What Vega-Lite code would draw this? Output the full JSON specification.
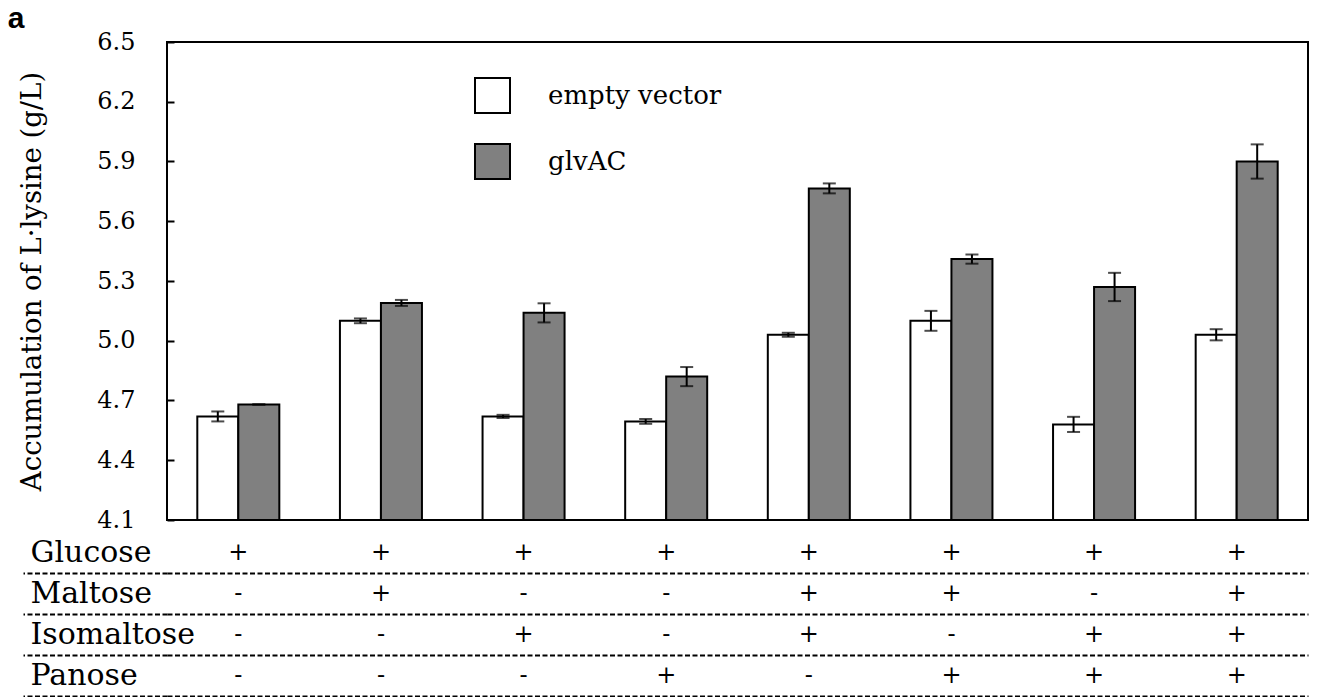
{
  "$schema": "https://vega.github.io/schema/vega-lite/v6.json",
  "background": "white",
  "padding": {"left": 7, "top": 4, "right": 0, "bottom": 0},
  "title": {"text": "a", "anchor": "start", "frame": "bounds", "font": "Liberation Sans", "fontSize": 30, "fontWeight": "bold", "color": "black", "offset": -4, "dx": -10, "dy": 1},
  "config": {
    "font": "DejaVu Serif",
    "view": {"stroke": "black", "strokeWidth": 2}
  },
  "spacing": 12,
  "bounds": "flush",
  "datasets": {
    "bars": [
      {"group": 1, "strain": "empty vector", "value": 4.62, "sd": 0.025},
      {"group": 1, "strain": "glvAC", "value": 4.68, "sd": 0},
      {"group": 2, "strain": "empty vector", "value": 5.10, "sd": 0.012},
      {"group": 2, "strain": "glvAC", "value": 5.19, "sd": 0.015},
      {"group": 3, "strain": "empty vector", "value": 4.62, "sd": 0.008},
      {"group": 3, "strain": "glvAC", "value": 5.14, "sd": 0.048},
      {"group": 4, "strain": "empty vector", "value": 4.595, "sd": 0.012},
      {"group": 4, "strain": "glvAC", "value": 4.82, "sd": 0.048},
      {"group": 5, "strain": "empty vector", "value": 5.03, "sd": 0.01},
      {"group": 5, "strain": "glvAC", "value": 5.765, "sd": 0.025},
      {"group": 6, "strain": "empty vector", "value": 5.10, "sd": 0.05},
      {"group": 6, "strain": "glvAC", "value": 5.41, "sd": 0.023},
      {"group": 7, "strain": "empty vector", "value": 4.58, "sd": 0.038},
      {"group": 7, "strain": "glvAC", "value": 5.27, "sd": 0.071},
      {"group": 8, "strain": "empty vector", "value": 5.03, "sd": 0.028},
      {"group": 8, "strain": "glvAC", "value": 5.90, "sd": 0.086}
    ],
    "table": [
      {"group": 1, "sugar": "Glucose", "sign": "+"},
      {"group": 2, "sugar": "Glucose", "sign": "+"},
      {"group": 3, "sugar": "Glucose", "sign": "+"},
      {"group": 4, "sugar": "Glucose", "sign": "+"},
      {"group": 5, "sugar": "Glucose", "sign": "+"},
      {"group": 6, "sugar": "Glucose", "sign": "+"},
      {"group": 7, "sugar": "Glucose", "sign": "+"},
      {"group": 8, "sugar": "Glucose", "sign": "+"},
      {"group": 1, "sugar": "Maltose", "sign": "-"},
      {"group": 2, "sugar": "Maltose", "sign": "+"},
      {"group": 3, "sugar": "Maltose", "sign": "-"},
      {"group": 4, "sugar": "Maltose", "sign": "-"},
      {"group": 5, "sugar": "Maltose", "sign": "+"},
      {"group": 6, "sugar": "Maltose", "sign": "+"},
      {"group": 7, "sugar": "Maltose", "sign": "-"},
      {"group": 8, "sugar": "Maltose", "sign": "+"},
      {"group": 1, "sugar": "Isomaltose", "sign": "-"},
      {"group": 2, "sugar": "Isomaltose", "sign": "-"},
      {"group": 3, "sugar": "Isomaltose", "sign": "+"},
      {"group": 4, "sugar": "Isomaltose", "sign": "-"},
      {"group": 5, "sugar": "Isomaltose", "sign": "+"},
      {"group": 6, "sugar": "Isomaltose", "sign": "-"},
      {"group": 7, "sugar": "Isomaltose", "sign": "+"},
      {"group": 8, "sugar": "Isomaltose", "sign": "+"},
      {"group": 1, "sugar": "Panose", "sign": "-"},
      {"group": 2, "sugar": "Panose", "sign": "-"},
      {"group": 3, "sugar": "Panose", "sign": "-"},
      {"group": 4, "sugar": "Panose", "sign": "+"},
      {"group": 5, "sugar": "Panose", "sign": "-"},
      {"group": 6, "sugar": "Panose", "sign": "+"},
      {"group": 7, "sugar": "Panose", "sign": "+"},
      {"group": 8, "sugar": "Panose", "sign": "+"}
    ]
  },
  "vconcat": [
    {
      "width": 1141,
      "height": 478,
      "data": {"name": "bars"},
      "encoding": {
        "x": {"field": "group", "type": "ordinal", "scale": {"paddingInner": 0.425, "paddingOuter": 0.2125}, "axis": null},
        "xOffset": {"field": "strain", "type": "nominal", "scale": {"domain": ["empty vector", "glvAC"], "paddingInner": 0, "paddingOuter": 0}},
        "y": {
          "field": "value", "type": "quantitative",
          "scale": {"domain": [4.1, 6.5], "zero": false, "nice": false},
          "axis": {
            "values": [4.1, 4.4, 4.7, 5.0, 5.3, 5.6, 5.9, 6.2, 6.5],
            "format": ".1f",
            "labelFont": "DejaVu Serif", "labelFontSize": 24, "labelColor": "black",
            "tickColor": "black", "tickWidth": 2, "tickSize": -7, "labelPadding": 39,
            "domain": false, "grid": false,
            "title": "Accumulation of L·lysine (g/L)",
            "titleFont": "DejaVu Serif", "titleFontSize": 27.5, "titleFontWeight": "normal", "titleColor": "black",
            "titlePadding": 50
          }
        }
      },
      "layer": [
        {
          "mark": {"type": "bar", "stroke": "black", "strokeWidth": 2},
          "encoding": {
            "y2": {"datum": 4.1},
            "fill": {
              "field": "strain", "type": "nominal",
              "scale": {"domain": ["empty vector", "glvAC"], "range": ["#ffffff", "#808080"]},
              "legend": {
                "orient": "none", "legendX": 307, "legendY": 35, "title": null, "padding": 0,
                "symbolType": "square", "symbolSize": 1225, "symbolStrokeWidth": 2, "symbolStrokeColor": "black",
                "labelFont": "DejaVu Serif", "labelFontSize": 26, "labelColor": "black", "labelOffset": 37, "labelLimit": 0,
                "rowPadding": 23,
                "encode": {"symbols": {"update": {
                  "fill": {"signal": "datum.value === 'glvAC' ? '#a6a6a6' : '#ffffff'"},
                  "stroke": {"value": "black"},
                  "strokeWidth": {"value": 2},
                  "opacity": {"value": 1}
                }}}
              }
            }
          }
        },
        {
          "mark": {"type": "errorbar", "ticks": {"size": 13, "thickness": 2, "color": "black"}, "rule": {"strokeWidth": 2, "color": "black"}},
          "encoding": {
            "yError": {"field": "sd"}
          }
        }
      ]
    },
    {
      "width": 1141,
      "height": 164,
      "data": {"name": "table"},
      "view": {"stroke": null},
      "mark": {"type": "text", "font": "DejaVu Serif", "fontSize": 24, "color": "black"},
      "encoding": {
        "x": {"field": "group", "type": "ordinal", "scale": {"paddingInner": 0.425, "paddingOuter": 0.2125}, "axis": null},
        "y": {
          "field": "sugar", "type": "nominal",
          "sort": ["Glucose", "Maltose", "Isomaltose", "Panose"],
          "scale": {"type": "band", "paddingInner": 0, "paddingOuter": 0},
          "axis": {
            "title": null, "orient": "left",
            "labelFont": "DejaVu Serif", "labelFontSize": 30, "labelColor": "black",
            "labelAlign": "left", "labelPadding": -7, "labelLimit": 0,
            "tickSize": 144, "tickColor": "black", "tickWidth": 2, "tickDash": [5, 2.5],
            "bandPosition": 1,
            "grid": true, "gridColor": "black", "gridWidth": 2, "gridDash": [5, 2.5], "gridOpacity": 1,
            "domain": false
          }
        },
        "text": {"field": "sign"}
      }
    }
  ]
}
